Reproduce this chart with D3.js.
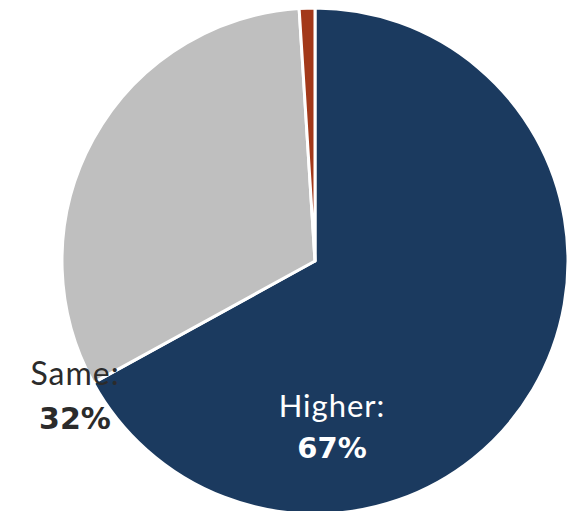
<!DOCTYPE html>
<html>
<head>
<meta charset="utf-8">
<script src="https://cdn.jsdelivr.net/npm/d3@7"></script>
<style>
  body { margin: 0; background: #fff; }
  text { font-family: Lato, "Open Sans", sans-serif; }
</style>
</head>
<body>
<svg id="chart" width="572" height="511"></svg>
<script>
var categories = ["Higher", "Same", "Lower"];
var values = [67, 32, 1];
var colors = ["#1b3a5f", "#bfbfbf", "#a3391a"];

var svg = d3.select("svg#chart");
var cx = 315, cy = 261, radius = 253;

var pie = d3.pie()
  .sort(null)
  .value(function(d) { return d.value; });

var data = categories.map(function(c, i) { return { name: c, value: values[i] }; });
var arcs = pie(data);

var arc = d3.arc().innerRadius(0).outerRadius(radius);

var colorScale = d3.scaleOrdinal().domain(categories).range(colors);

var plot = svg.append("g")
  .attr("transform", "translate(" + cx + "," + cy + ")");

plot.selectAll("path.slice")
  .data(arcs)
  .enter()
  .append("path")
  .attr("class", "slice")
  .attr("d", arc)
  .style("fill", function(d) { return colorScale(d.data.name); })
  .style("stroke", "#fff")
  .style("stroke-width", 3)
  .style("stroke-linejoin", "round");

// labels, offset from the pie center
var labels = [
  { name: "Higher", x: 17, y: 156, dy: 41, size: 29, fill: "#fff" },
  { name: "Same", x: -240, y: 124, dy: 44, size: 30, fill: "#2b2b2b" }
];

labels.forEach(function(l) {
  var i = categories.indexOf(l.name);
  var g = plot.append("g");
  g.append("text")
    .attr("x", l.x)
    .attr("y", l.y)
    .attr("text-anchor", "middle")
    .style("fill", l.fill)
    .style("font-size", (l.size + 2) + "px")
    .style("font-weight", 400)
    .style("letter-spacing", "1px")
    .text(l.name + ":");
  g.append("text")
    .attr("x", l.x)
    .attr("y", l.y + l.dy)
    .attr("text-anchor", "middle")
    .style("fill", l.fill)
    .style("font-family", "'DejaVu Sans', sans-serif")
    .style("font-size", l.size + "px")
    .style("font-weight", 700)
    .text(values[i] + "%");
});
</script>
</body>
</html>
